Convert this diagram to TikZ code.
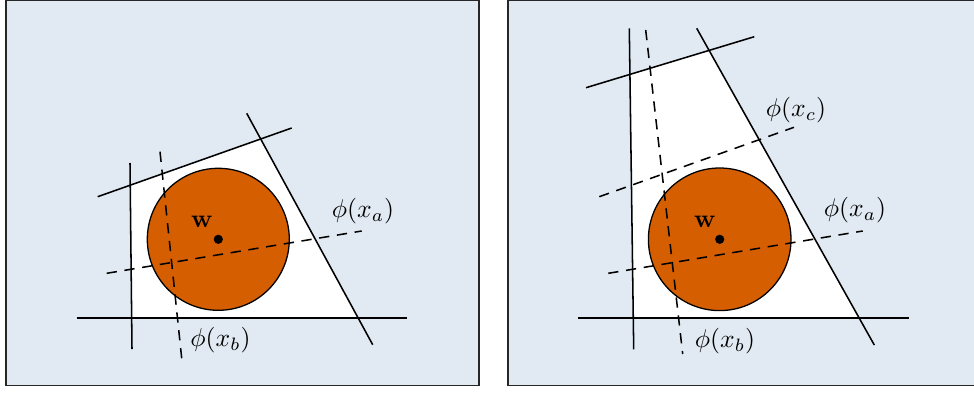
\documentclass[tikz,border=0pt]{standalone}
\usepackage{amsmath}
\definecolor{panelbg}{RGB}{225,234,242}
\definecolor{ballfill}{RGB}{213,94,0}
\begin{document}
\begin{tikzpicture}[x=0.39pt,y=-0.39pt,
  panel/.style={draw=black!85,line width=0.7pt,fill=panelbg},
  hyper/.style={line width=0.6pt},
  dhyper/.style={line width=0.6pt,dash pattern=on 4pt off 3pt},
  ball/.style={draw=black,line width=0.5pt,fill=ballfill},
  lbl/.style={inner sep=0pt,font=\fontsize{10.4pt}{12pt}\selectfont},
  wlbl/.style={inner sep=0pt,font=\fontsize{10.4pt}{12pt}\selectfont}]
\useasboundingbox (0,0) rectangle (974,392);
\draw[panel] (6,0) rectangle (479,385.5);
\draw[panel] (508,0) rectangle (990,385.5);

% ---------- left panel ----------
\coordinate (Ala) at (130,163);   \coordinate (Alb) at (132,349);
\coordinate (Ata) at (97.7,196.7); \coordinate (Atb) at (291.7,128);
\coordinate (Ara) at (246.7,113.3); \coordinate (Arb) at (372.7,344.7);
\coordinate (Aba) at (76.7,318);  \coordinate (Abb) at (407.3,318);
\coordinate (Aaa) at (106.7,273.3); \coordinate (Aab) at (361.7,231);
\coordinate (Ab1) at (160,151.7); \coordinate (Ab2) at (181.7,358.3);
\coordinate (Aw) at (218.3,239.3);
\fill[white] (intersection of Ala--Alb and Ata--Atb) -- (intersection of Ata--Atb and Ara--Arb)
  -- (intersection of Ara--Arb and Aba--Abb) -- (intersection of Aba--Abb and Ala--Alb) -- cycle;
\draw[ball] (Aw) circle[radius=71];
\draw[hyper] (Ala) -- (Alb);
\draw[hyper] (Ata) -- (Atb);
\draw[hyper] (Ara) -- (Arb);
\draw[hyper] (Aba) -- (Abb);
\draw[dhyper] (Aaa) -- (Aab);
\draw[dhyper] (Ab1) -- (Ab2);
\fill (Aw) circle[radius=4.6];
\node[wlbl] (Awl) at (202,222) {$\mathbf{w}$};
\node[lbl] (Axa) at (363,211) {$\phi(x_a)$};
\node[lbl] (Axb) at (220.5,340) {$\phi(x_b)$};

% ---------- right panel ----------
\coordinate (Bla) at (629.3,28.3); \coordinate (Blb) at (633.7,349.3);
\coordinate (Bta) at (586,87.7);   \coordinate (Btb) at (754.3,36.7);
\coordinate (Bra) at (696.7,28.3); \coordinate (Brb) at (874.3,345);
\coordinate (Bba) at (578.3,318);  \coordinate (Bbb) at (908.7,318);
\coordinate (Baa) at (608.3,273.3); \coordinate (Bab) at (862.7,231);
\coordinate (Bb1) at (645.7,30);   \coordinate (Bb2) at (682.7,354);
\coordinate (Bc1) at (599.3,196.7); \coordinate (Bc2) at (794,127.3);
\coordinate (Bw) at (719.7,239.3);
\fill[white] (intersection of Bla--Blb and Bta--Btb) -- (intersection of Bta--Btb and Bra--Brb)
  -- (intersection of Bra--Brb and Bba--Bbb) -- (intersection of Bba--Bbb and Bla--Blb) -- cycle;
\draw[ball] (Bw) circle[radius=71.3];
\draw[hyper] (Bla) -- (Blb);
\draw[hyper] (Bta) -- (Btb);
\draw[hyper] (Bra) -- (Brb);
\draw[hyper] (Bba) -- (Bbb);
\draw[dhyper] (Baa) -- (Bab);
\draw[dhyper] (Bb1) -- (Bb2);
\draw[dhyper] (Bc1) -- (Bc2);
\fill (Bw) circle[radius=4.6];
\node[wlbl] (Bwl) at (705,222) {$\mathbf{w}$};
\node[lbl] (Bxc) at (796,110) {$\phi(x_c)$};
\node[lbl] (Bxa) at (855,210) {$\phi(x_a)$};
\node[lbl] (Bxb) at (725,341.5) {$\phi(x_b)$};
\end{tikzpicture}
\end{document}
